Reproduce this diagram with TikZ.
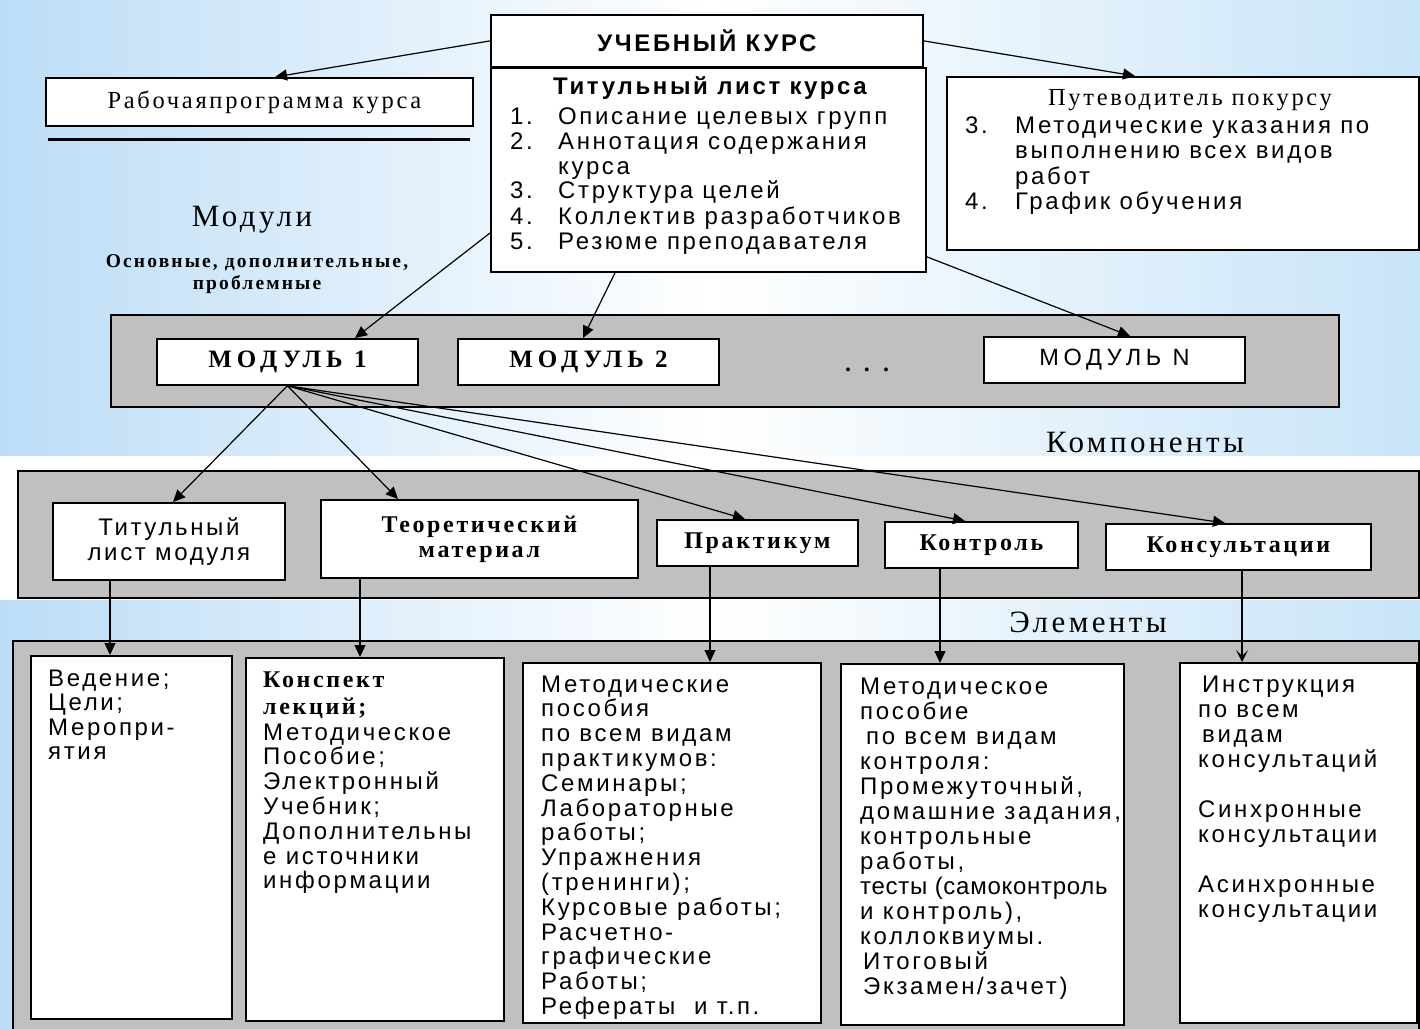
\documentclass[tikz,border=0pt]{standalone}
\usepackage{fontspec}
\setmainfont{Liberation Serif}
\newfontfamily\sfA{Liberation Sans}[LetterSpace=11]
\newfontfamily\rmA{Liberation Serif}[LetterSpace=11]
\usetikzlibrary{arrows.meta,calc}
\definecolor{bgblue}{HTML}{BCDDF7}
\definecolor{bgblueR}{HTML}{C8E4F8}
\definecolor{bandgrey}{HTML}{C0C0C0}
\tikzset{
 bx/.style={draw=black, line width=1.8pt, fill=white, inner sep=0pt, anchor=north west},
 band/.style={draw=black, line width=1.6pt, fill=bandgrey, inner sep=0pt, anchor=north west},
 arr/.style={draw=black, line width=1.2pt, -{Triangle[length=12pt,width=11pt]}},
 sf/.style={font=\sfA\fontsize{24}{25}\selectfont},
 sfb/.style={font=\sfA\bfseries\fontsize{24}{25}\selectfont},
 rmb/.style={font=\rmA\bfseries\fontsize{24}{25}\selectfont},
 rm/.style={font=\rmA\fontsize{24.5}{25}\selectfont},
 big/.style={font=\rmA\fontsize{31}{32}\selectfont, inner sep=0pt},
 ln/.style={anchor=base west, inner sep=0pt},
}
\begin{document}
\begin{tikzpicture}[x=1pt,y=-1pt]
\useasboundingbox (0,0) rectangle (1420,1028);
% background
\shade[left color=bgblue, right color=bgblueR, middle color=white] (0,0) rectangle (1420,1028);
\fill[white] (0,456) rectangle (1420,600);

% top boxes
\node[bx, minimum width=432pt, minimum height=52pt, sfb] (kurs) at (490,14) {УЧЕБНЫЙ КУРС};
\node[bx, minimum width=435pt, minimum height=204pt] (titul) at (490,67) {};
\node[sfb] (tt) at (710,88) {Титульный лист курса};
\foreach \n/\t/\y [count=\i] in {1./Описание целевых групп/124, 2./Аннотация содержания/149, /курса/174, 3./Структура целей/198, 4./Коллектив разработчиков/224, 5./Резюме преподавателя/249}{
  \node[sf, ln] (tn\i) at (510,\y) {\n};
  \node[sf, ln] (tx\i) at (558,\y) {\t};
}
\node[bx, minimum width=427pt, minimum height=48pt, rm] (rp) at (45,77) {\hspace{10pt}Рабочаяпрограмма курса};
\draw[line width=3pt] (48,139) -- (470,139);

\node[bx, minimum width=472pt, minimum height=173pt] (pv) at (946,76) {};
\node[rm] (pvt) at (1190,100) {Путеводитель покурсу};
\foreach \n/\t/\y [count=\i] in {3./Методические указания по/133, /выполнению всех видов/158, /работ/184, 4./График обучения/209}{
  \node[sf, ln] (pn\i) at (965,\y) {\n};
  \node[sf, ln] (px\i) at (1015,\y) {\t};
}

\node[big] (mod) at (252,220) {Модули};
\node[font=\rmA\bfseries\fontsize{19.5}{22}\selectfont, align=center, inner sep=0pt] (modsub) at (257,274) {Основные, дополнительные,\\ проблемные};

% modules band
\node[band, minimum width=1228pt, minimum height=92pt] (modband) at (110,314) {};
\node[bx, minimum width=261pt, minimum height=46pt, font=\rmA\bfseries\fontsize{25}{25}\selectfont\addfontfeature{LetterSpace=20}] (m1) at (156,338) {МОДУЛЬ 1};
\node[bx, minimum width=261pt, minimum height=46pt, font=\rmA\bfseries\fontsize{25}{25}\selectfont\addfontfeature{LetterSpace=20}] (m2) at (457,338) {МОДУЛЬ 2};
\node[font=\bfseries\fontsize{24}{25}\selectfont, inner sep=0pt] (dots) at (867,370) {.\hspace{13pt}.\hspace{13pt}.};
\node[bx, minimum width=261pt, minimum height=46pt, font=\sfA\fontsize{23.5}{25}\selectfont\addfontfeature{LetterSpace=20}] (mN) at (983,336) {МОДУЛЬ N};

\node[big] (komp) at (1145,442) {Компоненты};

% components band
\node[band, minimum width=1401pt, minimum height=127pt] (compband) at (17,470) {};
\node[bx, minimum width=232pt, minimum height=77pt, sf, align=center] (c1) at (52,502) {Титульный\\лист модуля};
\node[bx, minimum width=317pt, minimum height=78pt, rmb, align=center] (c2) at (320,499) {Теоретический\\материал};
\node[bx, minimum width=201pt, minimum height=46pt, rmb] (c3) at (656,519) {Практикум};
\node[bx, minimum width=193pt, minimum height=46pt, rmb] (c4) at (884,521) {Контроль};
\node[bx, minimum width=265pt, minimum height=46pt, rmb] (c5) at (1105,523) {Консультации};

\node[big] (elem) at (1088,622) {Элементы};

% elements band
\node[band, minimum width=1406pt, minimum height=400pt] (elband) at (12,640) {};
\node[bx, minimum width=201pt, minimum height=363pt] (e1) at (30,655) {};
\node[bx, minimum width=258pt, minimum height=363pt] (e2) at (245,657) {};
\node[bx, minimum width=298pt, minimum height=360pt] (e3) at (522,662) {};
\node[bx, minimum width=283pt, minimum height=361pt] (e4) at (840,663) {};
\node[bx, minimum width=237pt, minimum height=360pt] (e5) at (1179,662) {};

\foreach \t [count=\i] in {Ведение;, Цели;, Меропри-, ятия}
  \node[sf, ln] (ea\i) at (48,{686+24.5*(\i-1)}) {\t};

\node[rmb, ln] (eb1) at (263,687) {Конспект};
\node[rmb, ln] (eb2) at (263,714) {лекций;};
\foreach \t [count=\i] in {Методическое, Пособие;, Электронный, Учебник;, Дополнительны, е источники, информации}
  \node[sf, ln] (ebx\i) at (263,{740+24.8*(\i-1)}) {\t};

\foreach \t [count=\i] in {Методические, пособия, по всем видам, практикумов:, Семинары;, Лабораторные, работы;, Упражнения, (тренинги);, Курсовые работы;, Расчетно-, графические, Работы;, Рефераты\ \ и т.п.}
  \node[sf, ln] (ec\i) at (541,{692+24.8*(\i-1)}) {\t};

\foreach \t [count=\i] in {Методическое, пособие, \hspace{6pt}по всем видам, контроля:, {Промежуточный,}, {домашние задания,}, контрольные, {работы,}, {\addfontfeature{LetterSpace=3}тесты (самоконтроль}, {и контроль),}, коллоквиумы., \hspace{3pt}Итоговый, \hspace{3pt}Экзамен/зачет)}
  \node[sf, ln] (ed\i) at (860,{694+25*(\i-1)}) {\t};

\foreach \t/\k [count=\i] in {\hspace{4pt}Инструкция/0, по всем/1, \hspace{4pt}видам/2, консультаций/3, Синхронные/5, консультации/6, Асинхронные/8, консультации/9}
  \node[sf, ln] (ee\i) at (1198,{692+25*\k}) {\t};

% connectors
\draw[arr] (kurs.west) -- ($(rp.north west)+(230,0)$);
\draw[arr] (kurs.east) -- ($(pv.north west)+(189,0)$);
\draw[arr] ($(titul.north west)+(0,166)$) -- ($(m1.north west)+(199,0)$);
\draw[arr] ($(titul.south west)+(125,0)$) -- ($(m2.north west)+(126,0)$);
\draw[arr] ($(titul.south east)+(0,-16)$) -- ($(mN.north west)+(147,0)$);

\draw[arr] (m1.south) -- ($(c1.north west)+(121,0)$);
\draw[arr] (m1.south) -- ($(c2.north west)+(78,0)$);
\draw[arr] (m1.south) -- ($(c3.north west)+(89,0)$);
\draw[arr] (m1.south) -- ($(c4.north west)+(81,0)$);
\draw[arr] (m1.south) -- ($(c5.north west)+(120,0)$);

\draw[arr] ($(c1.south west)+(58,0)$) -- ($(e1.north west)+(80,0)$);
\draw[arr] ($(c2.south west)+(40,0)$) -- ($(e2.north west)+(115,0)$);
\draw[arr] ($(c3.south west)+(54,0)$) -- ($(e3.north west)+(188,0)$);
\draw[arr] ($(c4.south west)+(56,0)$) -- ($(e4.north west)+(100,0)$);
\draw[arr, -{Stealth[length=12pt,width=12pt,inset=6pt]}] ($(c5.south west)+(137,0)$) -- ($(e5.north west)+(63,0)$);
\end{tikzpicture}
\end{document}
